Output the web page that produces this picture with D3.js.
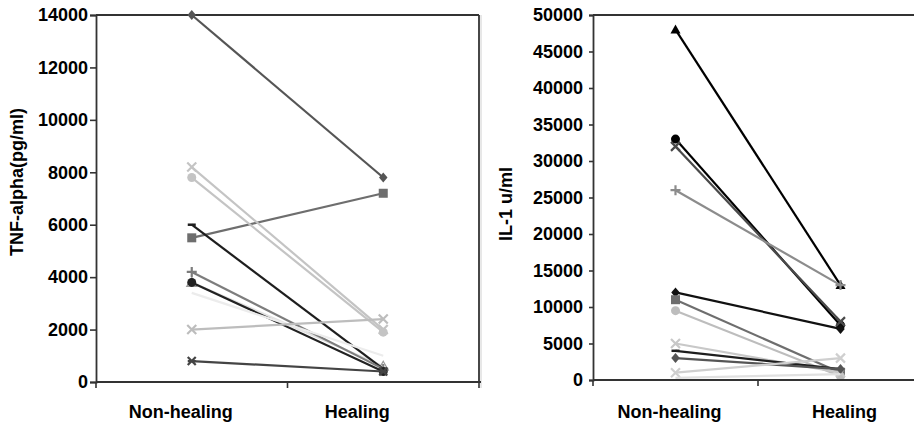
<!DOCTYPE html>
<html><head><meta charset="utf-8">
<script src="https://cdn.jsdelivr.net/npm/d3@7"></script>
<style>body{margin:0;background:#fff}svg{display:block}text{font-family:"Liberation Sans",Arial,sans-serif;font-weight:bold;fill:#000}</style>
</head><body><svg id="c" width="914" height="423"></svg>
<script>
const categories = ["Non-healing", "Healing"];
const tnfTicks = [0, 2000, 4000, 6000, 8000, 10000, 12000, 14000];
const il1Ticks = [0, 5000, 10000, 15000, 20000, 25000, 30000, 35000, 40000, 45000, 50000];

// TNF-alpha (pg/ml): [Non-healing, Healing]
const tnfP0 = [3800, 600];
const tnfP1 = [14000, 7800];
const tnfP2 = [5500, 7200];
const tnfP3 = [8200, 2000];
const tnfP4 = [7800, 1900];
const tnfP5 = [6000, 500];
const tnfP6 = [4200, 500];
const tnfP7 = [3800, 400];
const tnfP8 = [3400, 1000];
const tnfP9 = [2000, 2400];
const tnfP10 = [800, 400];

// IL-1 (u/ml): [Non-healing, Healing]
const il1P1 = [48000, 13000];
const il1P2 = [33000, 7500];
const il1P3 = [32000, 8000];
const il1P4 = [26000, 13000];
const il1P5 = [12000, 7000];
const il1P6 = [11000, 1000];
const il1P7 = [9500, 500];
const il1P8 = [5000, 1000];
const il1P9 = [4000, 1500];
const il1P10 = [3000, 1500];
const il1P11 = [1000, 3000];
const il1P12 = [300, 800];

const tnfSeries = [tnfP0, tnfP1, tnfP2, tnfP3, tnfP4, tnfP5, tnfP6, tnfP7, tnfP8, tnfP9, tnfP10];
const tnfStyle = [
  {c:"#e2e2e2", m:"triangleOpen"},
  {c:"#555", m:"diamond"}, {c:"#6e6e6e", m:"square"}, {c:"#c4c4c4", m:"x"}, {c:"#c4c4c4", m:"circle"},
  {c:"#1e1e1e", m:"dash"}, {c:"#7d7d7d", m:"plus"}, {c:"#222", m:"circle"}, {c:"#ececec", m:"none"},
  {c:"#bdbdbd", m:"x"}, {c:"#444", m:"star"}
];
const il1Series = [il1P1, il1P2, il1P3, il1P4, il1P5, il1P6, il1P7, il1P8, il1P9, il1P10, il1P11, il1P12];
const il1Style = [
  {c:"#000", m:"triangle"}, {c:"#000", m:"circle"}, {c:"#4a4a4a", m:"x"}, {c:"#8c8c8c", m:"plus"},
  {c:"#111", m:"diamond"}, {c:"#6e6e6e", m:"square"}, {c:"#bdbdbd", m:"circle"}, {c:"#c8c8c8", m:"x"},
  {c:"#1e1e1e", m:"dash"}, {c:"#555", m:"diamond"}, {c:"#cfcfcf", m:"x"}, {c:"#e0e0e0", m:"none"}
];

const svg = d3.select("#c");

function marker(g, type, x, y, col) {
  const s = 5;
  if (type === "diamond") g.append("path").attr("d", `M${x},${y-s}L${x+s*0.85},${y}L${x},${y+s}L${x-s*0.85},${y}Z`).attr("fill", col);
  else if (type === "square") g.append("rect").attr("x", x-4.5).attr("y", y-4.5).attr("width", 9).attr("height", 9).attr("fill", col);
  else if (type === "circle") g.append("circle").attr("cx", x).attr("cy", y).attr("r", 4.5).attr("fill", col);
  else if (type === "triangle") g.append("path").attr("d", `M${x},${y-5}L${x+5},${y+4}L${x-5},${y+4}Z`).attr("fill", col);
  else if (type === "triangleOpen") g.append("path").attr("d", `M${x},${y-5}L${x+5},${y+4}L${x-5},${y+4}Z`).attr("fill", "#fff").attr("stroke", "#999").attr("stroke-width", 1.2);
  else if (type === "x") g.append("path").attr("d", `M${x-4.5},${y-4.5}L${x+4.5},${y+4.5}M${x+4.5},${y-4.5}L${x-4.5},${y+4.5}`).attr("stroke", col).attr("stroke-width", 2.2);
  else if (type === "star") g.append("path").attr("d", `M${x-4},${y-4}L${x+4},${y+4}M${x+4},${y-4}L${x-4},${y+4}M${x-4},${y}L${x+4},${y}`).attr("stroke", col).attr("stroke-width", 2.2);
  else if (type === "plus") g.append("path").attr("d", `M${x-5},${y}L${x+5},${y}M${x},${y-5}L${x},${y+5}`).attr("stroke", col).attr("stroke-width", 2.2);
  else if (type === "dash") g.append("path").attr("d", `M${x-4},${y}L${x+4},${y}`).attr("stroke", col).attr("stroke-width", 2.5);
}

function panel(opt) {
  const x = d3.scaleBand().domain(categories).range([opt.x0, opt.x1]).padding(0);
  const y = d3.scaleLinear().domain([0, opt.max]).range([opt.y0, opt.y1]);
  const g = svg.append("g");
  const cx = d => x(d) + x.bandwidth() / 2;

  if (opt.outer) g.append("line").attr("x1", opt.outer).attr("x2", opt.outer).attr("y1", opt.y1).attr("y2", opt.y0 + 6).attr("stroke", "#d0d0d0").attr("stroke-width", 1);
  g.append("line").attr("x1", opt.x0).attr("x2", opt.x1).attr("y1", opt.y1).attr("y2", opt.y1).attr("stroke", "#333").attr("stroke-width", 1.8);
  g.append("line").attr("x1", opt.x1).attr("x2", opt.x1).attr("y1", opt.y1).attr("y2", opt.y0).attr("stroke", "#333").attr("stroke-width", 1.8);

  opt.series.forEach((vals, i) => {
    const st = opt.style[i];
    const pts = categories.map((c, j) => [cx(c), y(vals[j])]);
    g.append("path").attr("d", d3.line()(pts)).attr("fill", "none").attr("stroke", st.c).attr("stroke-width", 2.2);
    pts.forEach(p => marker(g, st.m, p[0], p[1], st.c));
  });

  const ya = g.append("g").attr("transform", `translate(${opt.x0},0)`)
    .call(d3.axisLeft(y).tickValues(opt.ticks).tickSize(opt.tickSize).tickPadding(opt.tickPad).tickFormat(d3.format("d")));
  ya.select(".domain").attr("stroke", "#333").attr("stroke-width", 1.8);
  ya.selectAll(".tick line").attr("stroke", "#333").attr("stroke-width", 1.6);
  ya.selectAll(".tick text").style("font-size", "18px").style("font-family", "'Liberation Sans',Arial,sans-serif").style("font-weight", "bold").attr("fill", "#000");

  g.append("line").attr("x1", opt.x0).attr("x2", opt.x1 + 2).attr("y1", opt.y0).attr("y2", opt.y0).attr("stroke", "#333").attr("stroke-width", 1.8);
  const bounds = [x(categories[0]), x(categories[1]), x(categories[1]) + x.bandwidth()];
  bounds.forEach(b => g.append("line").attr("x1", b).attr("x2", b).attr("y1", opt.y0).attr("y2", opt.y0 + 6).attr("stroke", "#333").attr("stroke-width", 1.6));
  categories.forEach((c, j) => g.append("text").attr("x", cx(c) + opt.labelDx[j]).attr("y", 418).attr("text-anchor", "middle").style("font-size", "18px").text(c));

  g.append("text").attr("transform", `translate(${opt.titleX},${opt.titleY}) rotate(-90)`).attr("text-anchor", "middle").style("font-size", "18px").text(opt.title);
}

panel({x0: 96, x1: 479, y0: 382, y1: 15, max: 14000, ticks: tnfTicks, series: tnfSeries, style: tnfStyle,
  tickSize: 6, tickPad: 2, labelDx: [-11, -26], title: "TNF-alpha(pg/ml)", titleX: 23, titleY: 182, outer: 481});
panel({x0: 593, x1: 923, y0: 380, y1: 15, max: 50000, ticks: il1Ticks, series: il1Series, style: il1Style,
  tickSize: 4, tickPad: 6, labelDx: [-6, 4], title: "IL-1 u/ml", titleX: 512, titleY: 204});
</script></body></html>
